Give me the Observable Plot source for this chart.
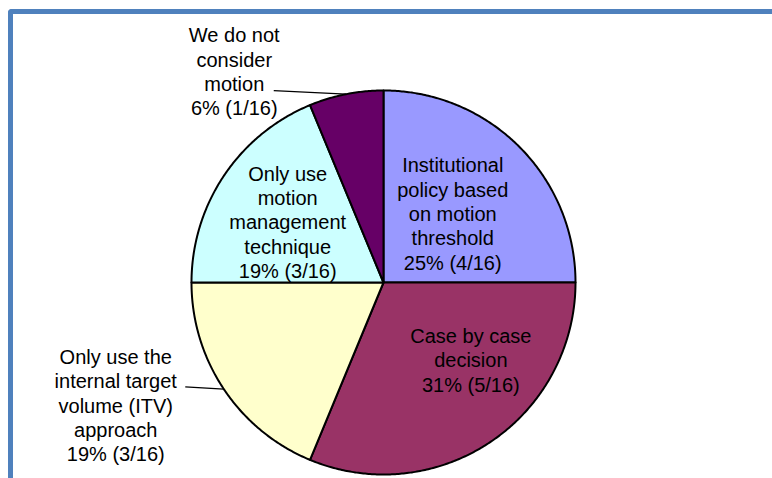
<!DOCTYPE html>
<html>
<head>
<meta charset="utf-8">
<script src="https://cdn.jsdelivr.net/npm/d3@7"></script>
<script src="https://cdn.jsdelivr.net/npm/@observablehq/plot@0.6"></script>
<style>
  html, body { margin: 0; padding: 0; background: #fff; width: 772px; height: 478px; overflow: hidden; }
  #frame { position: absolute; left: 8px; top: 9px; width: 800px; height: 500px;
           border-left: 5px solid #4f81bd; border-top: 5px solid #4f81bd; border-top-left-radius: 4px; }
  #chart { position: absolute; left: 0; top: 0; }
</style>
</head>
<body>
<div id="frame"></div>
<div id="chart"></div>
<script>
// ---- data ----
const categories = [
  "Institutional\npolicy based\non motion\nthreshold",
  "Case by case\ndecision",
  "Only use the\ninternal target\nvolume (ITV)\napproach",
  "Only use\nmotion\nmanagement\ntechnique",
  "We do not\nconsider\nmotion"
];
const counts = [4, 5, 3, 3, 1];
const total = 16;
const colors = ["#9999ff", "#993366", "#ffffcc", "#ccffff", "#660066"];

// ---- layout (label placement, not data) ----
const R = 192;                 // radius in px (scale range below)
const cx = 383, cy = 282;
const labelLayout = [
  {inside: true, r: 0.51, dx: 0, dy: 0},
  {inside: true, r: 0.50, dx: 34, dy: -3},
  {inside: false, tailDx: -38.6, tailDy: -2.3, textDx: -69.5, textDy: 18},
  {inside: true, r: 0.60, dx: 0, dy: 3},
  {inside: false, tailDx: -72.3, tailDy: -3.6, textDx: -39.5, textDy: -19.5}
];

const slices = categories.map((name, i) => ({name, count: counts[i], color: colors[i], i}));
const arcs = d3.pie().sort(null).value(d => d.count).startAngle(0).endAngle(2 * Math.PI)(slices);

// polygon points for each slice in unit coordinates (y up)
const pts = [];
arcs.forEach(a => {
  const key = a.data.name;
  pts.push({key, x: 0, y: 0});
  const n = Math.max(2, Math.ceil((a.endAngle - a.startAngle) / (Math.PI / 360)));
  for (let k = 0; k <= n; k++) {
    const t = a.startAngle + (a.endAngle - a.startAngle) * k / n;
    pts.push({key, x: Math.sin(t), y: Math.cos(t)});
  }
  pts.push({key, x: 0, y: 0});
});

const px = v => v / R; // pixel offset -> unit
const labels = [];
const leaders = [];
arcs.forEach((a, i) => {
  const mid = (a.startAngle + a.endAngle) / 2;
  const L = labelLayout[i];
  const pct = Math.round(a.data.count / total * 100);
  const text = a.data.name + "\n" + pct + "% (" + a.data.count + "/" + total + ")";
  if (L.inside) {
    labels.push({text, x: L.r * Math.sin(mid) + px(L.dx), y: L.r * Math.cos(mid) - px(L.dy)});
  } else {
    const ex = Math.sin(mid), ey = Math.cos(mid);
    const tx = ex + px(L.tailDx), ty = ey - px(L.tailDy);
    leaders.push({x1: ex, y1: ey, x2: tx, y2: ty});
    labels.push({text, x: tx + px(L.textDx), y: ty - px(L.textDy)});
  }
});

const chart = Plot.plot({
  width: 772,
  height: 478,
  margin: 0,
  style: {fontFamily: "'Liberation Sans', Arial, sans-serif", background: "transparent", overflow: "visible"},
  x: {domain: [-1, 1], range: [cx - R, cx + R], axis: null},
  y: {domain: [-1, 1], range: [cy + R, cy - R], axis: null},
  color: {domain: categories, range: colors},
  marks: [
    Plot.line(pts, {x: "x", y: "y", z: "key", fill: "key", stroke: "#000", strokeWidth: 2, strokeLinejoin: "round", curve: "linear"}),
    Plot.link(leaders, {x1: "x1", y1: "y1", x2: "x2", y2: "y2", stroke: "#000", strokeWidth: 1.2}),
    Plot.text(labels, {x: "x", y: "y", text: "text", fontSize: 20, lineHeight: 1.22, textAnchor: "middle", fill: "#000"})
  ]
});
document.getElementById("chart").appendChild(chart);
</script>
</body>
</html>
